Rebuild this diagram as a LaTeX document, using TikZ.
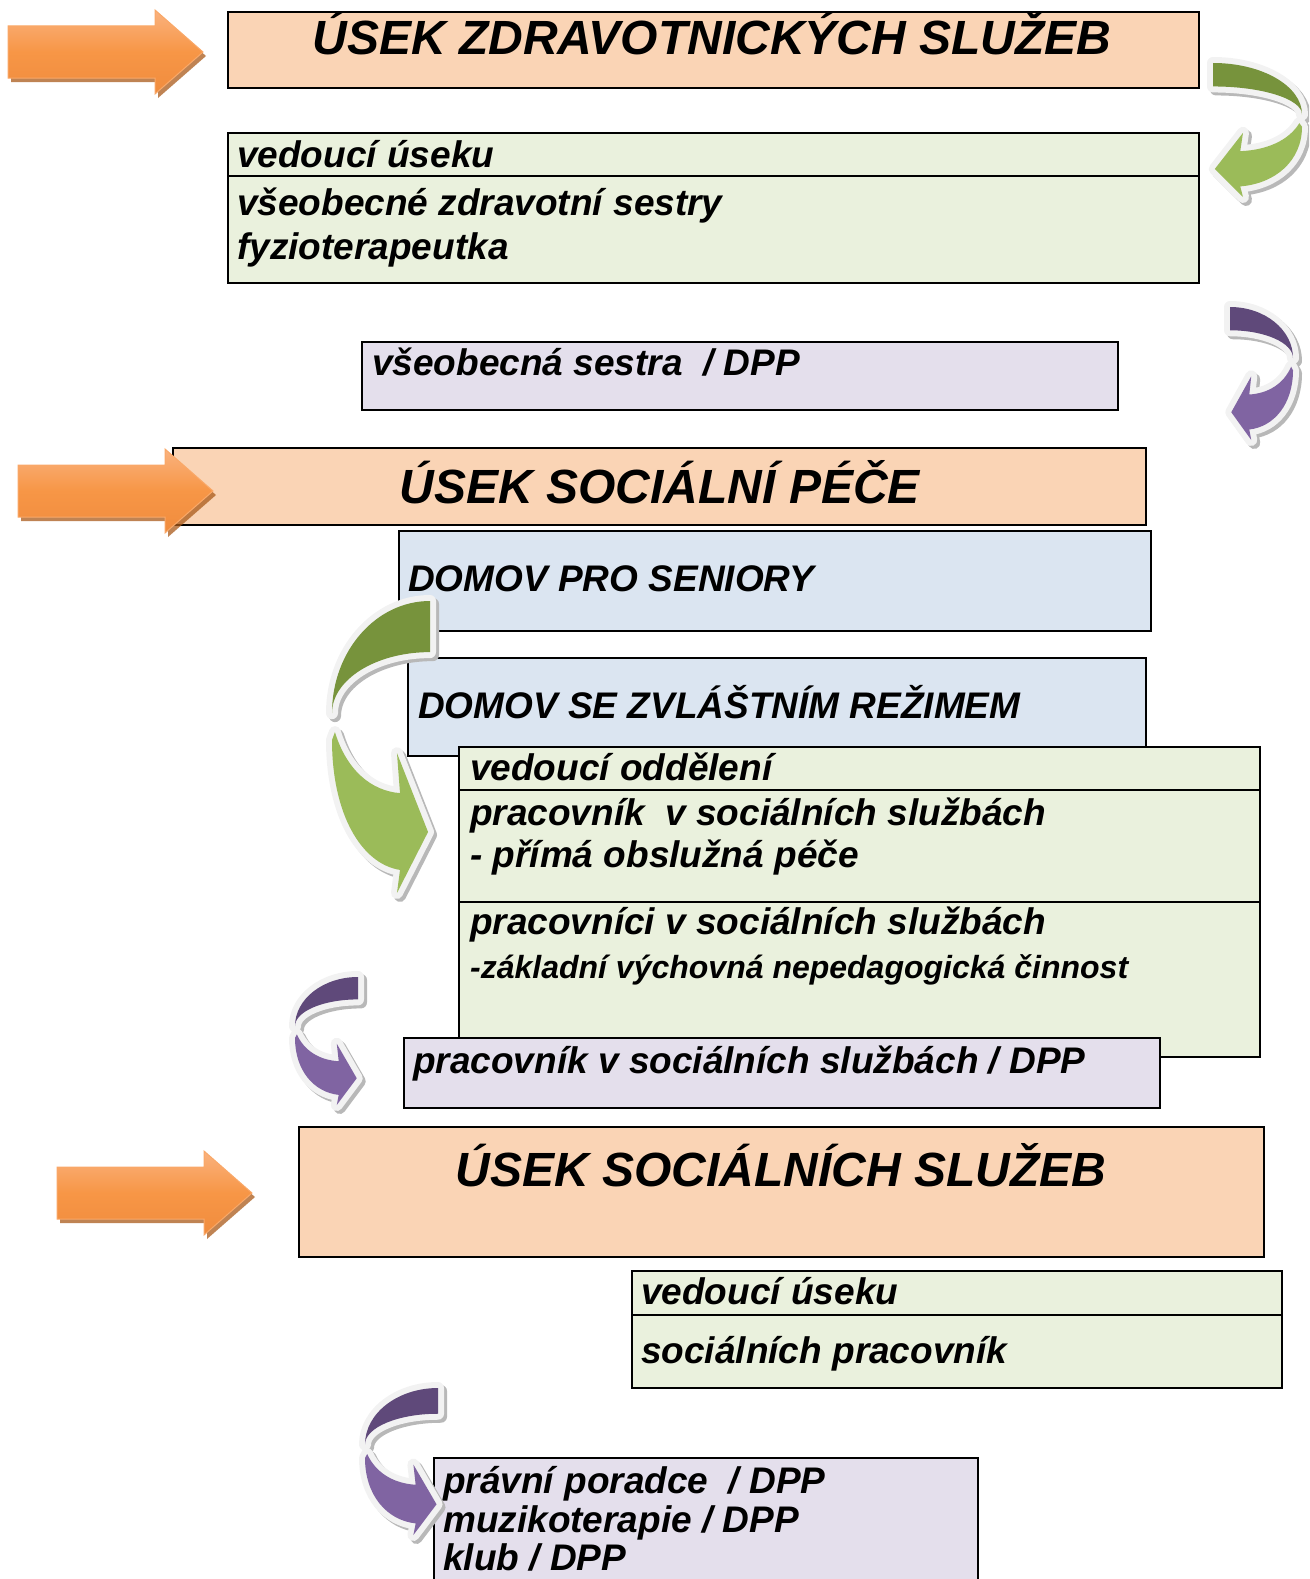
\documentclass[tikz,border=0pt]{standalone}
\usepackage{fontspec}
\setmainfont{Liberation Sans}
\definecolor{peach}{HTML}{FAD4B5}
\definecolor{lgreen}{HTML}{EAF1DD}
\definecolor{lblue}{HTML}{DBE5F1}
\definecolor{lav}{HTML}{E4DFEC}
\definecolor{orgA}{HTML}{F79646}
\definecolor{orgTop}{HTML}{FAB27E}
\definecolor{orgBot}{HTML}{F08C3E}
\definecolor{orgEdge}{HTML}{F9A868}
\definecolor{orgShadow}{HTML}{A95A1A}
\definecolor{gDark}{HTML}{77933C}
\definecolor{gLight}{HTML}{9BBB59}
\definecolor{pDark}{HTML}{5F497A}
\definecolor{pLight}{HTML}{8064A2}
\definecolor{outl}{HTML}{F2F2F2}
\definecolor{shadowgray}{HTML}{B8B8B8}
\tikzset{
  box/.style={draw=black, line width=2pt, inner sep=0pt, anchor=north west},
  divider/.style={draw=black, line width=2pt},
  hdr/.style={font=\fontsize{48}{56}\selectfont\bfseries\itshape, inner sep=0pt, anchor=base},
  txt/.style={font=\fontsize{37}{44}\selectfont\bfseries\itshape, inner sep=0pt, anchor=base west},
  smalltxt/.style={font=\fontsize{32}{38}\selectfont\bfseries\itshape, inner sep=0pt, anchor=base west},
  plaintxt/.style={font=\fontsize{37}{39}\selectfont\bfseries\itshape, inner sep=0pt, anchor=base west},
}
\newcommand\orarrow[2]{%
  \begin{scope}[shift={(#1,#2)}]
    \fill[orgShadow, opacity=0.75] (3,-22) -- (150,-22) -- (150,-38) -- (198,4) -- (150,46) -- (150,30) -- (3,30) -- cycle;
    \draw[top color=orgTop, bottom color=orgBot, middle color=orgA, draw=orgEdge, line width=1pt]
      (0,-26) -- (147,-26) -- (147,-42) -- (195,0) -- (147,42) -- (147,26) -- (0,26) -- cycle;
  \end{scope}}
\newcommand\curvA[6]{%
  \begin{scope}[shift={(#1,#2)}, xscale=#3, yscale=#4]
    \begin{scope}[shift={({3/(#3)},{3/(#4)})}]
      \draw[shadowgray, fill=shadowgray, line width=12pt, line join=round]
        (1,0) .. controls (0.448,0) and (0,0.172) .. (0,0.384) .. controls (0,0.269) and (0.448,0.175) .. (1,0.175) -- cycle;
      \draw[shadowgray, fill=shadowgray, line width=12pt, line join=round]
        (0.03,0.449) .. controls (0.15,0.58) and (0.4,0.65) .. (0.694,0.658) -- (0.663,0.521) -- (0.98,0.791) -- (0.663,1.0) -- (0.694,0.921) .. controls (0.3,0.9) and (0,0.73) .. (0,0.476) -- cycle;
    \end{scope}
    \draw[outl, fill=outl, line width=12pt, line join=round]
      (1,0) .. controls (0.448,0) and (0,0.172) .. (0,0.384) .. controls (0,0.269) and (0.448,0.175) .. (1,0.175) -- cycle;
    \draw[outl, fill=outl, line width=12pt, line join=round]
      (0.03,0.449) .. controls (0.15,0.58) and (0.4,0.65) .. (0.694,0.658) -- (0.663,0.521) -- (0.98,0.791) -- (0.663,1.0) -- (0.694,0.921) .. controls (0.3,0.9) and (0,0.73) .. (0,0.476) -- cycle;
    \fill[#5]
      (1,0) .. controls (0.448,0) and (0,0.172) .. (0,0.384) .. controls (0,0.269) and (0.448,0.175) .. (1,0.175) -- cycle;
    \fill[#6]
      (0.03,0.449) .. controls (0.15,0.58) and (0.4,0.65) .. (0.694,0.658) -- (0.663,0.521) -- (0.98,0.791) -- (0.663,1.0) -- (0.694,0.921) .. controls (0.3,0.9) and (0,0.73) .. (0,0.476) -- cycle;
  \end{scope}}
\begin{document}
\begin{tikzpicture}[x=1pt, y=-1pt]
\useasboundingbox (0,0) rectangle (1309,1579);
\clip (0,0) rectangle (1309,1579);
% boxes
\node[box, fill=peach, minimum width=971pt, minimum height=76pt] (h1) at (227,11) {};
\node[box, fill=lgreen, minimum width=971pt, minimum height=150pt] (g1) at (227,132) {};
\draw[divider] (227,176) -- (1198,176);
\node[box, fill=lav, minimum width=756pt, minimum height=68pt] (l1) at (361,341) {};
\node[box, fill=peach, minimum width=973pt, minimum height=77pt] (h2) at (172,447) {};
\node[box, fill=lblue, minimum width=752pt, minimum height=100pt] (b1) at (398,530) {};
\node[box, fill=lblue, minimum width=738pt, minimum height=98pt] (b2) at (407,657) {};
\node[box, fill=lgreen, minimum width=801pt, minimum height=310pt] (g2) at (458,746) {};
\draw[divider] (458,790) -- (1259,790);
\draw[divider] (458,902) -- (1259,902);
\node[box, fill=lav, minimum width=756pt, minimum height=70pt] (l2) at (403,1037) {};
\node[box, fill=peach, minimum width=965pt, minimum height=130pt] (h3) at (298,1126) {};
\node[box, fill=lgreen, minimum width=650pt, minimum height=117pt] (g3) at (631,1270) {};
\draw[divider] (631,1315) -- (1281,1315);
\node[box, fill=lav, minimum width=544pt, minimum height=143pt] (l3) at (433,1457) {};
% texts
\node[hdr] (t1) at (712,55) {ÚSEK ZDRAVOTNICKÝCH SLUŽEB};
\node[txt] (t2) at (237,167) {vedoucí úseku};
\node[txt] (t3) at (237,215) {všeobecné zdravotní sestry};
\node[txt] (t4) at (237,259) {fyzioterapeutka};
\node[txt] (t5) at (372,375) {všeobecná sestra~~/ DPP};
\node[hdr] (t6) at (660,503) {ÚSEK SOCIÁLNÍ PÉČE};
\node[txt] (t7) at (408,591) {DOMOV PRO SENIORY};
\node[txt] (t8) at (418,718) {DOMOV SE ZVLÁŠTNÍM REŽIMEM};
\node[txt] (t9) at (470,780) {vedoucí oddělení};
\node[txt] (t10) at (470,825) {pracovník~~v sociálních službách};
\node[txt] (t11) at (470,867) {- přímá obslužná péče};
\node[txt] (t12) at (470,934) {pracovníci v sociálních službách};
\node[smalltxt] (t13) at (470,978) {-základní výchovná nepedagogická činnost};
\node[txt] (t14) at (413,1073) {pracovník v sociálních službách / DPP};
\node[hdr] (t15) at (781,1186) {ÚSEK SOCIÁLNÍCH SLUŽEB};
\node[txt] (t16) at (641,1304) {vedoucí úseku};
\node[txt] (t17) at (641,1363) {sociálních pracovník};
\node[plaintxt] (t18) at (443,1493) {právní poradce~~/ DPP};
\node[plaintxt] (t19) at (443,1532) {muzikoterapie / DPP};
\node[plaintxt] (t20) at (443,1570) {klub / DPP};
% orange arrows
\orarrow{8}{52}
\orarrow{18}{491}
\orarrow{57}{1193}
% curved arrows
\curvA{1302}{63}{-89}{134}{gDark}{gLight}
\curvA{1293}{307}{-63}{133}{pDark}{pLight}
\curvA{332}{601}{98}{292}{gDark}{gLight}
\curvA{295}{977}{63}{128}{pDark}{pLight}
\curvA{365}{1388}{73}{147}{pDark}{pLight}
\end{tikzpicture}
\end{document}
